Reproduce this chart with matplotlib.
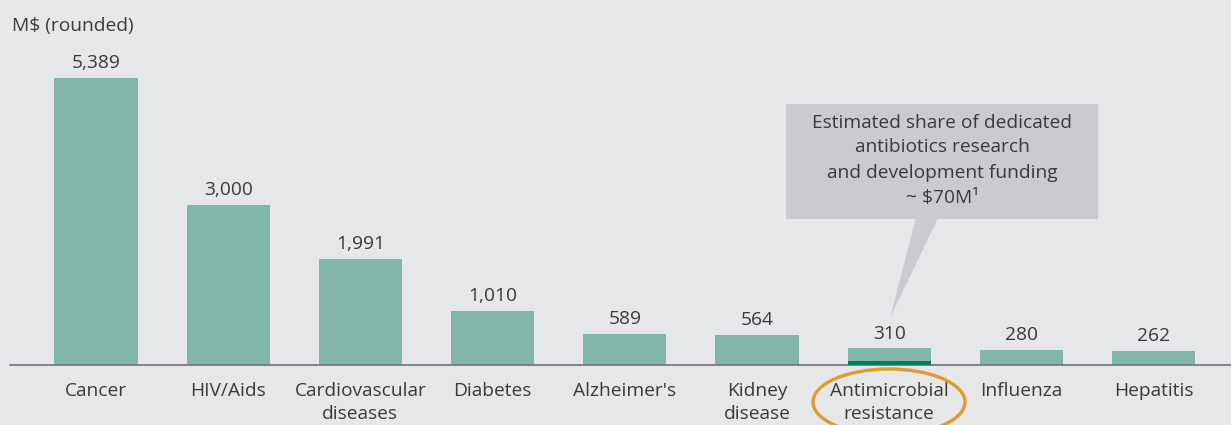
import matplotlib
matplotlib.use("Agg")
import matplotlib.pyplot as plt
from matplotlib.patches import Ellipse, Polygon

# --- data ---
categories = ["Cancer", "HIV/Aids", "Cardiovascular\ndiseases", "Diabetes", "Alzheimer's",
              "Kidney\ndisease", "Antimicrobial\nresistance", "Influenza", "Hepatitis"]
values = [5389, 3000, 1991, 1010, 589, 564, 310, 280, 262]
value_labels = ["5,389", "3,000", "1,991", "1,010", "589", "564", "310", "280", "262"]
amr_index = 6
amr_antibiotics = 70
callout_text = "Estimated share of dedicated\nantibiotics research\nand development funding\n~ $70M\u00b9"

BG = "#e6e7e9"
BAR = "#82b6a8"
DARK = "#0b7a5c"
TXT = "#3a3a3a"
FS = 13.8
plt.rcParams['font.family'] = ['Open Sans', 'DejaVu Sans']

fig = plt.figure(figsize=(12.31, 4.25), dpi=100, facecolor=BG)
ax = fig.add_axes([10 / 1231, 60 / 425, 1 - 10 / 1231, 365 / 425])
ax.set_facecolor(BG)

x = list(range(len(categories)))
ax.bar(x, values, width=0.63, color=BAR, zorder=2)
ax.bar([amr_index], [amr_antibiotics], width=0.63, color=DARK, zorder=3)

for xi, v, lab in zip(x, values, value_labels):
    ax.text(xi, v + 110, lab, ha="center", va="bottom", fontsize=FS, color=TXT)

ax.set_xlim(-0.65, 8.585)
ax.set_ylim(0, 6855)
for s in ["top", "right", "left"]:
    ax.spines[s].set_visible(False)
ax.spines["bottom"].set_color("#6f7276")
ax.spines["bottom"].set_linewidth(1.2)
ax.set_yticks([])
ax.set_xticks(x)
ax.set_xticklabels(categories, fontsize=FS, color=TXT, linespacing=1.4)
ax.tick_params(axis="x", length=0, pad=12)

fig.text(12 / 1231, 1 - 26 / 425, "M$ (rounded)", fontsize=FS, color=TXT, va="center")

# --- callout box ---
box_col = "#c9cbcf"
def px(xp, yp):
    return (xp / 1231, 1 - yp / 425)

bx0, by0 = px(786, 219)
bx1, by1 = px(1098, 104)
fig.patches.append(plt.Rectangle((bx0, by0), bx1 - bx0, by1 - by0, transform=fig.transFigure,
                                 facecolor=box_col, edgecolor="none", zorder=1))
fig.patches.append(Polygon([px(916, 218), px(938, 218), px(890, 318)], closed=True,
                           transform=fig.transFigure, facecolor=box_col, edgecolor="none", zorder=1))
cx, cy = px(942, 160)
fig.text(cx, cy, callout_text, ha="center", va="center", fontsize=FS, color=TXT, linespacing=1.5)

# --- orange ring around AMR label ---
ring = Ellipse(px(889, 402), 152 / 1231, 66 / 425, transform=fig.transFigure, fill=False,
               edgecolor="#e19a30", linewidth=2.4, zorder=5)
fig.patches.append(ring)

fig.savefig("out.png", dpi=100, facecolor=BG)
